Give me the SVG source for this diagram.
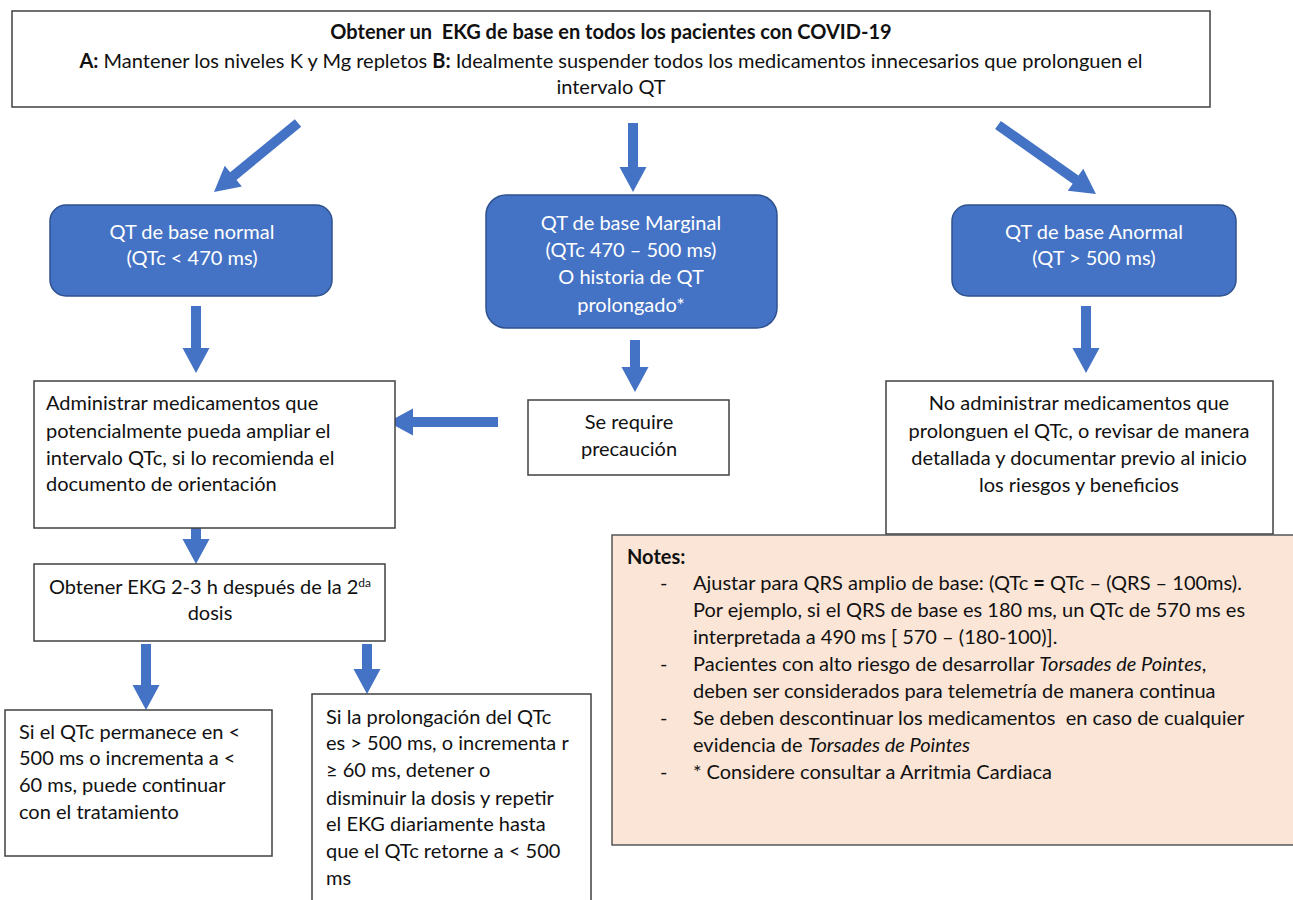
<svg xmlns="http://www.w3.org/2000/svg" width="1293" height="900" viewBox="0 0 1293 900">
<style>
  text { font-family: Lato, "Liberation Sans", sans-serif; font-size: 20px; fill: #111; }
  .w { fill: #ffffff; }
  .b { font-weight: bold; }
  .c { text-anchor: middle; }
  .i { font-style: italic; }
  .box { fill: #ffffff; stroke: #404040; stroke-width: 1.5; }
  .blue { fill: #4472C4; stroke: #2F528F; stroke-width: 1.5; }
  .note { fill: #FBE5D6; stroke: #555555; stroke-width: 1.5; }
  .arr { fill: #4472C4; }
</style>
<rect width="1293" height="900" fill="#ffffff"/>

<g id="connectors">
  <g class="arr" transform="translate(298,123) rotate(140.6)"><polygon points="0,-5 83.7,-5 83.7,-13.5 108.7,0 83.7,13.5 83.7,5 0,5"/></g>
  <polygon class="arr" points="628,123 638,123 638,167 646.5,167 633,192 619.5,167 628,167"/>
  <g class="arr" transform="translate(998,125) rotate(35.2)"><polygon points="0,-5 94.9,-5 94.9,-13.5 119.9,0 94.9,13.5 94.9,5 0,5"/></g>
  <polygon class="arr" points="191,306 201,306 201,348 209.5,348 196,373 182.5,348 191,348"/>
  <polygon class="arr" points="630,340 640,340 640,367 648.5,367 635,392 621.5,367 630,367"/>
  <polygon class="arr" points="1081,306 1091,306 1091,348 1099.5,348 1086,373 1072.5,348 1081,348"/>
  <polygon class="arr" points="498,417 498,427 413,427 413,435.5 388,422 413,408.5 413,417"/>
  <polygon class="arr" points="191,513 201,513 201,539 209.5,539 196,564 182.5,539 191,539"/>
  <polygon class="arr" points="141,644 151,644 151,685 159.5,685 146,710 132.5,685 141,685"/>
  <polygon class="arr" points="362,644 372,644 372,669 380.5,669 367,694 353.5,669 362,669"/>
</g>

<g id="top">
  <rect class="box" x="12" y="11" width="1198" height="96"/>
  <text class="b c" x="611" y="39">Obtener un &#160;EKG de base en todos los pacientes con COVID-19</text>
  <text class="c" x="611" y="68"><tspan class="b">A:</tspan> Mantener los niveles K y Mg repletos <tspan class="b">B:</tspan> Idealmente suspender todos los medicamentos innecesarios que prolonguen el</text>
  <text class="c" x="611" y="94">intervalo QT</text>
</g>

<g id="normal">
  <rect class="blue" x="50" y="205" width="282" height="91" rx="16"/>
  <text class="w c" x="192" y="239">QT de base normal</text>
  <text class="w c" x="192" y="265">(QTc &lt; 470 ms)</text>
</g>

<g id="marginal">
  <rect class="blue" x="486" y="195" width="291" height="133" rx="20"/>
  <text class="w c" x="631" y="230">QT de base Marginal</text>
  <text class="w c" x="631" y="257">(QTc 470 – 500 ms)</text>
  <text class="w c" x="631" y="284">O historia de QT</text>
  <text class="w c" x="631" y="312">prolongado*</text>
</g>

<g id="anormal">
  <rect class="blue" x="952" y="205" width="284" height="91" rx="16"/>
  <text class="w c" x="1094" y="239">QT de base Anormal</text>
  <text class="w c" x="1094" y="265">(QT &gt; 500 ms)</text>
</g>

<g id="administrar">
  <rect class="box" x="34" y="381" width="361" height="147"/>
  <text x="46" y="410">Administrar medicamentos que</text>
  <text x="46" y="438">potencialmente pueda ampliar el</text>
  <text x="46" y="465">intervalo QTc, si lo recomienda el</text>
  <text x="46" y="491">documento de orientación</text>
</g>

<g id="precaucion">
  <rect class="box" x="528" y="400" width="201" height="75"/>
  <text class="c" x="629" y="429">Se require</text>
  <text class="c" x="629" y="456">precaución</text>
</g>

<g id="no-administrar">
  <rect class="box" x="886" y="381" width="387" height="153"/>
  <text class="c" x="1079" y="410">No administrar medicamentos que</text>
  <text class="c" x="1079" y="438">prolonguen el QTc, o revisar de manera</text>
  <text class="c" x="1079" y="465">detallada y documentar previo al inicio</text>
  <text class="c" x="1079" y="492">los riesgos y beneficios</text>
</g>

<g id="obtener-ekg">
  <rect class="box" x="34" y="564" width="351" height="77"/>
  <text class="c" x="210" y="594">Obtener EKG 2-3 h después de la 2<tspan font-size="12" dy="-7">da</tspan></text>
  <text class="c" x="210" y="620">dosis</text>
</g>

<g id="continuar">
  <rect class="box" x="5" y="710" width="267" height="146"/>
  <text x="19" y="739">Si el QTc permanece en &lt;</text>
  <text x="19" y="765">500 ms o incrementa a &lt;</text>
  <text x="19" y="792">60 ms, puede continuar</text>
  <text x="19" y="819">con el tratamiento</text>
</g>

<g id="detener">
  <rect class="box" x="312" y="694" width="279" height="215"/>
  <text x="326" y="724">Si la prolongación del QTc</text>
  <text x="326" y="750">es &gt; 500 ms, o incrementa r</text>
  <text x="326" y="777">≥ 60 ms, detener o</text>
  <text x="326" y="805">disminuir la dosis y repetir</text>
  <text x="326" y="831">el EKG diariamente hasta</text>
  <text x="326" y="858">que el QTc retorne a &lt; 500</text>
  <text x="326" y="885">ms</text>
</g>

<g id="notes">
  <rect class="note" x="612" y="535" width="690" height="310"/>
  <text class="b" x="627" y="564">Notes:</text>
  <text x="660" y="590">-</text>
  <text x="693" y="590">Ajustar para QRS amplio de base: (QTc <tspan class="b">=</tspan> QTc – (QRS – 100ms).</text>
  <text x="693" y="617">Por ejemplo, si el QRS de base es 180 ms, un QTc de 570 ms es</text>
  <text x="693" y="644">interpretada a 490 ms [ 570 – (180-100)].</text>
  <text x="660" y="671">-</text>
  <text x="693" y="671">Pacientes con alto riesgo de desarrollar <tspan class="i">Torsades de Pointes</tspan>,</text>
  <text x="693" y="698">deben ser considerados para telemetría de manera continua</text>
  <text x="660" y="725">-</text>
  <text x="693" y="725">Se deben descontinuar los medicamentos &#160;en caso de cualquier</text>
  <text x="693" y="752">evidencia de <tspan class="i">Torsades de Pointes</tspan></text>
  <text x="660" y="779">-</text>
  <text x="693" y="779">* Considere consultar a Arritmia Cardiaca</text>
</g>
</svg>
